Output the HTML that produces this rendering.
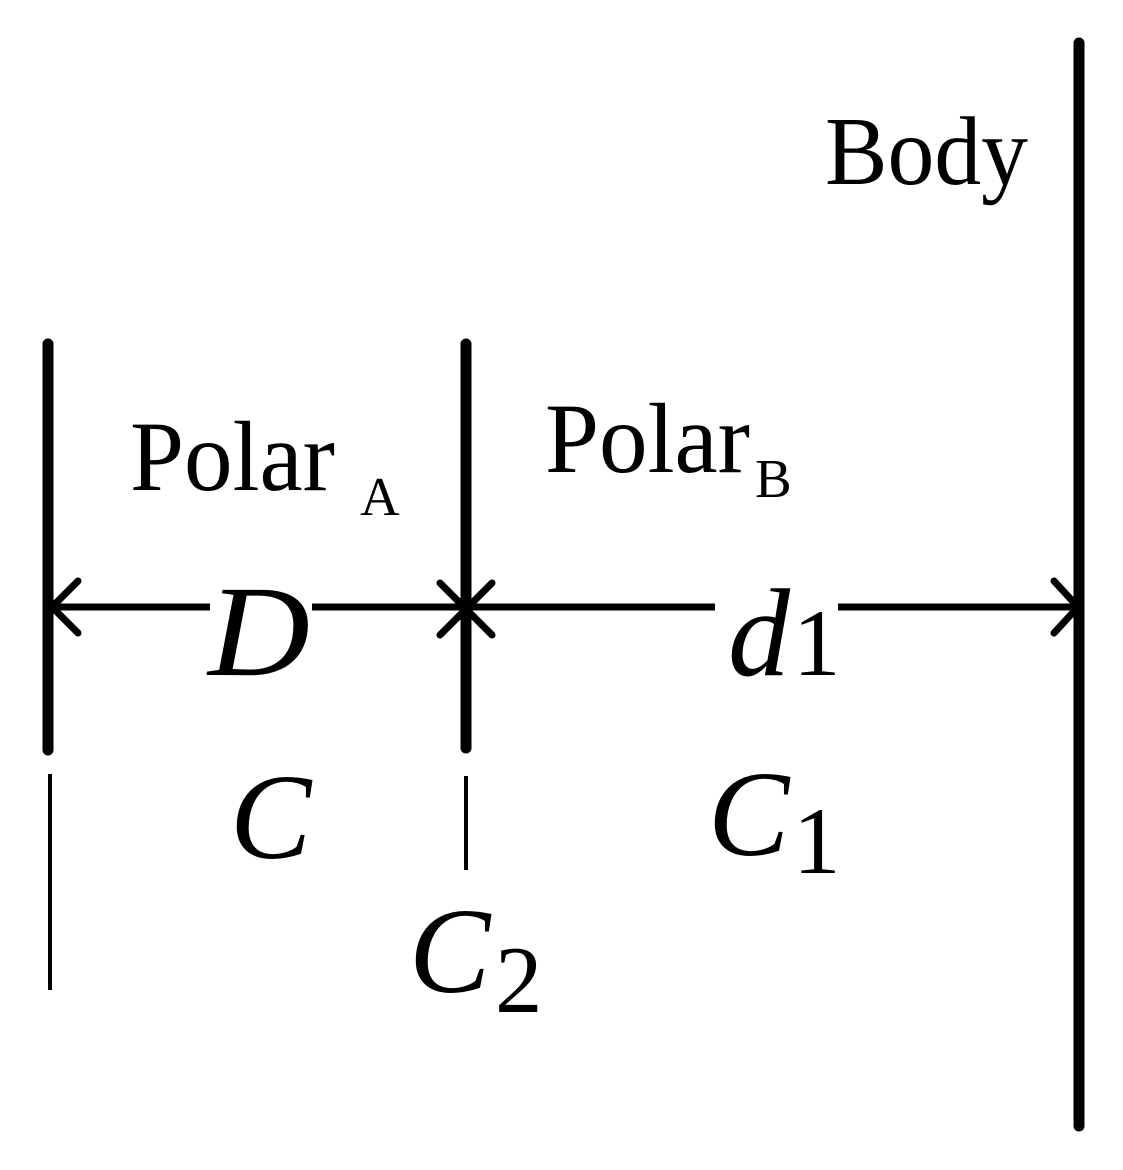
<!DOCTYPE html>
<html><head><style>body{margin:0;background:#fff}svg{display:block}</style></head><body>
<svg width="1123" height="1170" viewBox="0 0 1123 1170" xmlns="http://www.w3.org/2000/svg" font-family="'Liberation Serif', serif">
<g stroke="#000" stroke-linecap="round" fill="none">
<line x1="48" y1="344" x2="48" y2="750" stroke-width="11"/>
<line x1="466" y1="344" x2="466" y2="748" stroke-width="11"/>
<line x1="1079" y1="43" x2="1079" y2="1126" stroke-width="11"/>
<line x1="50" y1="774" x2="50" y2="990" stroke-width="4" stroke-linecap="butt"/>
<line x1="466" y1="776" x2="466" y2="870" stroke-width="4" stroke-linecap="butt"/>
<line x1="50" y1="607" x2="210" y2="607" stroke-width="7" stroke-linecap="butt"/>
<line x1="312" y1="607" x2="715" y2="607" stroke-width="7" stroke-linecap="butt"/>
<line x1="838" y1="607" x2="1078" y2="607" stroke-width="7" stroke-linecap="butt"/>
<g stroke-width="7">
<polyline points="78,581 52,607 78,633"/>
<polyline points="440,583 466,609 440,635"/>
<polyline points="492,583 466,609 492,635"/>
<polyline points="1054,581 1078,607 1054,633"/>
</g>
</g>
<g fill="#000">
<text x="825" y="184" font-size="98" textLength="203" lengthAdjust="spacingAndGlyphs">Body</text>
<text x="130" y="490" font-size="100" textLength="205" lengthAdjust="spacingAndGlyphs">Polar</text>
<text x="360" y="515" font-size="55">A</text>
<text x="545" y="472" font-size="100" textLength="205" lengthAdjust="spacingAndGlyphs">Polar</text>
<text x="755" y="497" font-size="55">B</text>
<text x="208" y="675" font-size="130" font-style="italic" textLength="102" lengthAdjust="spacingAndGlyphs">D</text>
<text x="728" y="675" font-size="125" font-style="italic" textLength="62" lengthAdjust="spacingAndGlyphs">d</text>
<text x="793" y="675" font-size="95">1</text>
<text x="230" y="858" font-size="122" font-style="italic">C</text>
<text x="708" y="855" font-size="122" font-style="italic">C</text>
<text x="793" y="873" font-size="95">1</text>
<text x="409" y="992" font-size="122" font-style="italic">C</text>
<text x="495" y="1012" font-size="95">2</text>
</g>
</svg>
</body></html>
